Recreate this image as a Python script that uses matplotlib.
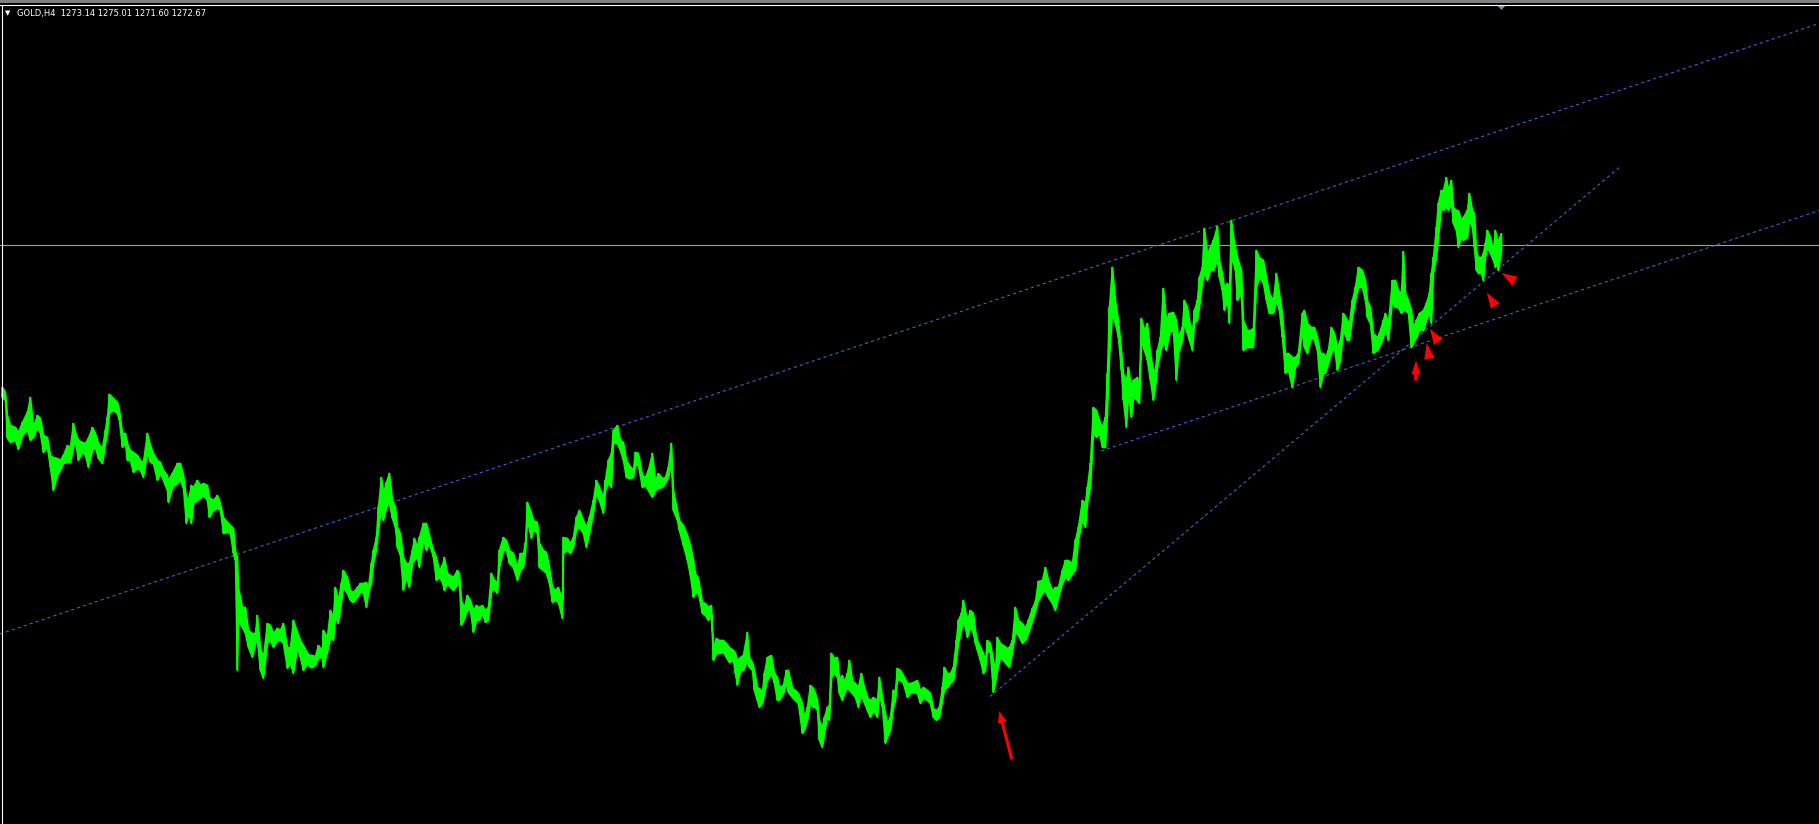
import numpy as np
import matplotlib
matplotlib.use("Agg")
import matplotlib.pyplot as plt
from matplotlib.markers import MarkerStyle
from matplotlib.path import Path
from matplotlib.transforms import Affine2D
from matplotlib.patches import Rectangle
from matplotlib.lines import Line2D

# GOLD H4 - bar index (1 bar per pixel column) with high / low of the bars
BAR = [2, 5, 7, 10, 15, 18, 22, 27, 30, 33,
       37, 40, 43, 47, 50, 53, 57, 60, 63, 67,
       70, 73, 75, 78, 82, 85, 88, 92, 95, 98,
       102, 105, 107, 109, 113, 117, 119, 122, 125, 127,
       130, 133, 137, 140, 143, 147, 150, 153, 157, 160,
       163, 167, 168, 172, 177, 180, 183, 186, 188, 191,
       193, 197, 200, 203, 207, 209, 213, 217, 220, 223,
       227, 230, 233, 235, 237, 238, 242, 245, 248, 252,
       255, 257, 260, 263, 267, 270, 273, 277, 280, 283,
       287, 290, 293, 297, 300, 303, 307, 310, 312, 315,
       318, 322, 323, 327, 330, 333, 335, 338, 341, 343,
       347, 350, 353, 357, 360, 363, 366, 368, 371, 373,
       376, 378, 381, 383, 386, 389, 392, 395, 397, 400,
       403, 406, 409, 412, 414, 417, 419, 423, 426, 429,
       433, 436, 439, 442, 444, 447, 450, 453, 457, 459,
       461, 464, 467, 470, 473, 476, 479, 482, 485, 488,
       491, 493, 497, 499, 503, 506, 509, 513, 517, 520,
       523, 525, 527, 531, 533, 537, 539, 543, 546, 549,
       552, 555, 558, 562, 563, 567, 570, 573, 576, 579,
       583, 586, 589, 593, 596, 599, 603, 605, 608, 611,
       613, 617, 620, 623, 626, 629, 633, 635, 638, 642,
       645, 648, 652, 655, 658, 662, 665, 668, 671, 673,
       677, 679, 683, 687, 690, 693, 695, 698, 702, 705,
       708, 711, 713, 716, 719, 723, 726, 729, 733, 735,
       737, 740, 743, 747, 749, 752, 754, 757, 759, 762,
       764, 767, 771, 774, 777, 779, 783, 786, 788, 792,
       795, 798, 802, 804, 807, 810, 813, 815, 817, 819,
       822, 824, 827, 829, 831, 834, 837, 839, 842, 844,
       847, 849, 852, 855, 858, 861, 863, 867, 870, 873,
       877, 879, 882, 885, 887, 890, 893, 895, 897, 900,
       903, 907, 910, 913, 917, 920, 923, 927, 930, 933,
       936, 939, 942, 944, 947, 950, 953, 956, 958, 961,
       963, 965, 967, 970, 973, 975, 977, 980, 983, 985,
       987, 990, 993, 995, 997, 1000, 1003, 1007, 1009, 1012,
       1015, 1018, 1022, 1025, 1028, 1032, 1035, 1038, 1042, 1045,
       1048, 1052, 1055, 1058, 1062, 1065, 1068, 1072, 1075, 1078,
       1082, 1085, 1087, 1090, 1093, 1096, 1099, 1102, 1105, 1107,
       1109, 1112, 1115, 1118, 1121, 1123, 1126, 1128, 1131, 1133,
       1137, 1139, 1141, 1144, 1147, 1150, 1153, 1155, 1157, 1160,
       1163, 1166, 1169, 1173, 1176, 1178, 1182, 1184, 1187, 1189,
       1192, 1194, 1197, 1199, 1202, 1204, 1207, 1210, 1213, 1217,
       1219, 1222, 1224, 1227, 1229, 1231, 1233, 1235, 1237, 1241,
       1243, 1247, 1250, 1253, 1256, 1259, 1263, 1266, 1269, 1273,
       1276, 1279, 1282, 1285, 1288, 1292, 1295, 1298, 1302, 1304,
       1307, 1311, 1314, 1317, 1320, 1323, 1325, 1328, 1331, 1334,
       1337, 1340, 1343, 1347, 1349, 1352, 1355, 1358, 1362, 1365,
       1367, 1370, 1373, 1377, 1379, 1383, 1385, 1388, 1392, 1395,
       1398, 1401, 1403, 1405, 1408, 1411, 1413, 1416, 1419, 1423,
       1426, 1429, 1431, 1433, 1436, 1438, 1441, 1443, 1446, 1448,
       1451, 1453, 1456, 1458, 1461, 1463, 1467, 1469, 1472, 1474,
       1476, 1478, 1481, 1483, 1485, 1487, 1490, 1493, 1495, 1497, 1498, 1501]

HIGH = [1244.3, 1243.3, 1238.7, 1236.7, 1236.3, 1235.3, 1237.3, 1239.3, 1242.3, 1236.3,
        1238.7, 1238.1, 1234.7, 1234.3, 1230.7, 1230.3, 1230.1, 1229.7, 1230.7, 1232.7,
        1232.3, 1237.1, 1235.3, 1233.7, 1233.3, 1233.1, 1234.1, 1236.3, 1235.1, 1233.1,
        1232.1, 1235.7, 1238.3, 1242.9, 1242.1, 1241.3, 1239.7, 1235.1, 1235.1, 1233.1,
        1231.7, 1231.3, 1230.7, 1229.7, 1229.3, 1235.1, 1232.7, 1231.1, 1229.7, 1229.3,
        1227.7, 1226.7, 1225.7, 1227.1, 1229.1, 1229.1, 1226.7, 1222.3, 1221.7, 1224.7,
        1224.3, 1225.7, 1224.7, 1225.1, 1224.7, 1222.3, 1221.7, 1222.7, 1221.1, 1218.3,
        1217.3, 1216.7, 1216.1, 1211.7, 1210.3, 1204.3, 1200.3, 1200.3, 1195.7, 1195.1,
        1195.1, 1198.7, 1192.3, 1190.3, 1197.1, 1196.7, 1195.1, 1196.1, 1195.7, 1197.1,
        1192.3, 1192.3, 1197.7, 1195.3, 1193.7, 1192.7, 1191.1, 1190.7, 1190.7, 1190.5,
        1192.7, 1191.7, 1195.7, 1194.3, 1199.7, 1198.3, 1204.3, 1201.7, 1205.1, 1207.7,
        1206.3, 1203.7, 1203.3, 1204.3, 1205.1, 1205.1, 1205.3, 1204.3, 1209.1, 1211.7,
        1214.3, 1220.3, 1226.3, 1223.1, 1225.3, 1227.1, 1221.7, 1220.3, 1216.3, 1215.1,
        1210.3, 1209.1, 1209.1, 1211.7, 1214.1, 1212.3, 1214.3, 1217.1, 1217.1, 1214.7,
        1211.7, 1210.3, 1207.7, 1208.7, 1210.3, 1207.1, 1206.7, 1206.3, 1207.7, 1207.1,
        1201.7, 1200.3, 1202.7, 1201.7, 1199.7, 1200.7, 1200.3, 1200.7, 1199.7, 1200.3,
        1207.1, 1206.1, 1205.1, 1211.7, 1214.3, 1213.7, 1211.7, 1211.1, 1208.3, 1211.1,
        1211.1, 1213.1, 1221.3, 1219.1, 1217.7, 1217.3, 1213.1, 1211.7, 1211.3, 1208.3,
        1204.3, 1203.7, 1204.3, 1201.7, 1214.3, 1214.1, 1213.1, 1214.3, 1218.3, 1219.7,
        1217.7, 1216.3, 1218.3, 1221.7, 1225.7, 1224.3, 1222.3, 1225.7, 1229.7, 1231.1,
        1235.7, 1236.7, 1233.7, 1233.3, 1229.7, 1228.7, 1227.7, 1231.3, 1231.1, 1226.7,
        1226.3, 1227.7, 1231.1, 1225.7, 1227.1, 1226.1, 1226.3, 1228.3, 1233.1, 1223.7,
        1219.7, 1217.7, 1216.7, 1214.7, 1212.7, 1209.7, 1207.1, 1206.1, 1201.3, 1201.1,
        1200.3, 1200.7, 1192.1, 1194.1, 1193.7, 1193.7, 1193.1, 1192.3, 1191.7, 1191.1,
        1189.7, 1190.3, 1190.7, 1195.3, 1190.3, 1189.3, 1187.7, 1184.3, 1184.1, 1183.3,
        1187.1, 1190.3, 1190.7, 1187.1, 1186.3, 1184.3, 1184.7, 1187.7, 1187.7, 1184.1,
        1183.7, 1183.1, 1181.1, 1178.3, 1180.3, 1184.7, 1184.1, 1183.1, 1181.7, 1177.7,
        1176.3, 1178.3, 1180.3, 1180.7, 1191.1, 1190.1, 1190.3, 1186.1, 1186.7, 1185.3,
        1187.1, 1189.7, 1185.7, 1185.1, 1184.3, 1187.1, 1185.1, 1182.3, 1181.7, 1182.3,
        1181.7, 1186.3, 1182.3, 1179.1, 1177.1, 1178.3, 1183.7, 1183.7, 1188.1, 1187.7,
        1186.7, 1185.1, 1185.1, 1185.3, 1185.7, 1183.7, 1184.3, 1183.7, 1183.1, 1180.1,
        1179.7, 1180.3, 1184.3, 1188.3, 1187.1, 1187.1, 1188.3, 1193.7, 1197.7, 1199.1,
        1201.7, 1199.7, 1197.7, 1199.7, 1199.1, 1195.7, 1193.7, 1192.3, 1191.1, 1189.7,
        1193.7, 1193.1, 1189.7, 1187.7, 1194.3, 1193.1, 1192.7, 1192.1, 1192.3, 1193.7,
        1200.3, 1197.7, 1197.1, 1196.1, 1197.7, 1200.1, 1201.5, 1205.5, 1205.7, 1208.3,
        1205.7, 1203.7, 1204.3, 1204.3, 1207.7, 1209.7, 1209.7, 1209.1, 1213.7, 1216.3,
        1221.7, 1221.1, 1224.3, 1229.1, 1240.3, 1239.7, 1237.7, 1236.3, 1238.3, 1247.1,
        1260.3, 1268.3, 1261.7, 1257.7, 1251.7, 1247.1, 1245.7, 1248.3, 1244.3, 1245.7,
        1246.3, 1244.3, 1258.1, 1255.7, 1257.1, 1251.1, 1247.7, 1247.7, 1251.7, 1254.3,
        1264.1, 1257.7, 1259.1, 1259.3, 1257.7, 1254.3, 1256.3, 1261.7, 1260.3, 1257.7,
        1255.1, 1259.7, 1261.7, 1266.3, 1268.3, 1276.1, 1271.1, 1272.3, 1273.7, 1276.5,
        1269.7, 1267.1, 1264.3, 1265.1, 1263.7, 1277.7, 1274.7, 1272.3, 1270.3, 1267.7,
        1257.7, 1255.7, 1255.7, 1256.1, 1271.7, 1270.3, 1269.7, 1266.3, 1263.1, 1261.7,
        1267.1, 1263.1, 1259.1, 1251.1, 1251.1, 1250.3, 1250.3, 1251.1, 1259.1, 1259.7,
        1257.1, 1256.3, 1256.3, 1254.3, 1251.1, 1251.1, 1250.3, 1251.7, 1256.3, 1255.1,
        1252.3, 1253.7, 1259.1, 1257.7, 1257.1, 1261.7, 1264.3, 1268.3, 1267.7, 1265.7,
        1261.7, 1260.3, 1255.1, 1254.3, 1255.1, 1257.7, 1259.1, 1257.1, 1265.7, 1265.7,
        1263.7, 1263.1, 1271.5, 1263.1, 1261.7, 1259.7, 1256.3, 1257.7, 1259.1, 1259.7,
        1261.1, 1263.1, 1267.1, 1270.3, 1276.3, 1281.1, 1283.7, 1283.7, 1286.3, 1283.7,
        1285.7, 1280.3, 1279.7, 1279.7, 1277.7, 1278.3, 1279.7, 1283.1, 1279.7, 1279.1,
        1271.7, 1270.3, 1270.3, 1271.1, 1273.1, 1275.7, 1274.3, 1271.7, 1275.7, 1273.7, 1273.7, 1275.01]

LOW = [1242.3, 1241.7, 1234.1, 1233.3, 1233.7, 1231.9, 1234.7, 1235.7, 1233.7, 1234.3,
       1236.3, 1235.1, 1231.3, 1232.3, 1228.3, 1223.7, 1226.7, 1227.7, 1229.1, 1229.3,
       1229.3, 1232.3, 1233.7, 1229.7, 1231.3, 1230.7, 1228.3, 1231.7, 1232.3, 1230.1,
       1229.1, 1233.1, 1235.1, 1239.1, 1239.7, 1239.1, 1237.7, 1232.3, 1233.1, 1229.7,
       1229.7, 1227.3, 1228.1, 1227.7, 1226.3, 1231.3, 1229.3, 1229.1, 1225.7, 1227.1,
       1225.7, 1223.7, 1221.3, 1224.3, 1225.1, 1225.7, 1224.1, 1217.1, 1219.1, 1217.1,
       1221.1, 1221.7, 1222.1, 1222.7, 1221.7, 1218.3, 1219.7, 1220.1, 1219.7, 1215.1,
       1215.3, 1215.1, 1211.1, 1209.7, 1187.7, 1197.7, 1196.3, 1195.1, 1192.3, 1190.3,
       1193.1, 1193.7, 1187.7, 1186.1, 1193.1, 1193.7, 1192.3, 1193.7, 1193.7, 1193.1,
       1188.1, 1189.1, 1187.1, 1192.3, 1190.3, 1187.7, 1189.1, 1188.3, 1188.3, 1188.7,
       1190.1, 1190.3, 1188.3, 1191.3, 1194.3, 1193.7, 1198.3, 1197.1, 1201.3, 1204.3,
       1203.1, 1201.7, 1201.3, 1202.3, 1203.3, 1203.3, 1200.3, 1203.1, 1205.1, 1209.1,
       1211.7, 1215.7, 1220.3, 1217.7, 1220.3, 1221.1, 1218.1, 1216.3, 1212.3, 1210.7,
       1203.7, 1206.3, 1204.3, 1209.1, 1209.7, 1210.3, 1208.3, 1214.1, 1211.7, 1213.1,
       1210.3, 1205.7, 1206.3, 1205.3, 1203.7, 1205.1, 1204.3, 1203.7, 1204.7, 1205.3,
       1196.7, 1198.1, 1199.7, 1199.7, 1195.3, 1197.7, 1197.7, 1199.1, 1197.3, 1197.7,
       1203.3, 1204.1, 1203.1, 1208.3, 1211.7, 1211.7, 1209.1, 1208.3, 1205.7, 1207.7,
       1208.3, 1211.1, 1217.7, 1214.1, 1215.7, 1215.1, 1208.3, 1207.7, 1207.1, 1205.1,
       1201.3, 1201.7, 1201.3, 1198.1, 1211.1, 1211.7, 1211.1, 1212.3, 1215.7, 1216.3,
       1215.1, 1212.3, 1215.1, 1219.1, 1223.1, 1221.7, 1219.1, 1223.7, 1225.1, 1224.3,
       1233.1, 1233.1, 1231.7, 1229.7, 1226.3, 1226.1, 1226.3, 1228.7, 1228.7, 1224.3,
       1224.7, 1223.7, 1222.3, 1223.7, 1224.1, 1224.3, 1225.1, 1226.3, 1229.1, 1219.7,
       1217.7, 1215.7, 1212.7, 1209.7, 1206.7, 1202.3, 1203.1, 1203.1, 1199.1, 1198.7,
       1197.7, 1198.7, 1189.7, 1191.1, 1191.1, 1191.3, 1190.3, 1189.3, 1189.7, 1187.1,
       1184.7, 1187.7, 1187.7, 1189.7, 1188.3, 1187.7, 1183.7, 1181.7, 1180.3, 1181.1,
       1183.1, 1185.7, 1187.1, 1185.1, 1181.7, 1181.7, 1183.1, 1185.1, 1183.3, 1182.3,
       1181.7, 1181.1, 1175.1, 1175.7, 1177.7, 1181.1, 1180.3, 1180.3, 1179.7, 1173.7,
       1172.3, 1175.1, 1178.3, 1177.7, 1186.3, 1187.1, 1186.3, 1183.1, 1181.7, 1183.1,
       1184.3, 1183.7, 1183.1, 1182.3, 1180.3, 1183.1, 1181.7, 1179.7, 1178.3, 1179.7,
       1178.3, 1183.1, 1180.3, 1173.1, 1174.3, 1175.7, 1180.3, 1181.7, 1185.7, 1185.7,
       1185.1, 1182.3, 1183.1, 1183.3, 1183.1, 1181.1, 1182.3, 1181.7, 1181.1, 1178.3,
       1177.7, 1178.3, 1181.7, 1183.7, 1184.3, 1185.1, 1185.7, 1189.7, 1193.1, 1195.7,
       1197.7, 1196.3, 1194.3, 1196.3, 1195.1, 1193.1, 1191.7, 1189.7, 1187.1, 1187.7,
       1191.7, 1191.1, 1183.3, 1185.1, 1187.7, 1190.3, 1189.7, 1188.7, 1188.3, 1191.3,
       1195.3, 1194.7, 1193.1, 1193.7, 1195.1, 1197.5, 1199.5, 1201.7, 1203.1, 1203.7,
       1202.3, 1201.1, 1199.7, 1202.3, 1205.1, 1206.3, 1205.7, 1207.1, 1207.7, 1213.7,
       1217.7, 1216.3, 1221.1, 1224.3, 1235.1, 1234.3, 1235.1, 1232.3, 1232.3, 1239.1,
       1250.3, 1259.1, 1257.1, 1254.3, 1247.7, 1241.7, 1236.3, 1243.1, 1238.3, 1242.3,
       1241.7, 1241.1, 1253.7, 1251.7, 1249.7, 1245.7, 1241.7, 1244.3, 1248.3, 1251.1,
       1253.7, 1251.7, 1255.1, 1255.7, 1245.7, 1251.1, 1253.7, 1257.1, 1255.1, 1253.7,
       1251.7, 1257.1, 1257.7, 1260.3, 1265.1, 1267.1, 1265.7, 1267.7, 1267.7, 1269.7,
       1266.3, 1263.7, 1259.7, 1261.7, 1257.1, 1269.7, 1269.3, 1267.7, 1261.7, 1263.1,
       1251.7, 1252.3, 1252.3, 1252.3, 1264.3, 1266.3, 1265.1, 1261.7, 1259.1, 1259.1,
       1261.7, 1259.7, 1254.3, 1247.1, 1247.7, 1244.3, 1248.3, 1249.1, 1255.7, 1252.3,
       1251.1, 1254.3, 1253.7, 1251.7, 1244.3, 1247.1, 1247.1, 1249.1, 1251.1, 1252.3,
       1247.7, 1249.7, 1255.7, 1253.7, 1253.7, 1258.3, 1261.7, 1264.3, 1264.3, 1261.7,
       1258.3, 1257.1, 1251.1, 1251.7, 1252.3, 1254.3, 1256.3, 1253.7, 1261.7, 1260.3,
       1260.3, 1259.1, 1259.7, 1259.7, 1259.1, 1252.3, 1253.1, 1254.3, 1255.7, 1255.7,
       1257.7, 1259.1, 1257.1, 1267.1, 1270.3, 1274.3, 1280.3, 1279.7, 1280.3, 1279.7,
       1281.1, 1277.1, 1275.7, 1272.3, 1274.3, 1273.7, 1274.3, 1277.7, 1276.3, 1272.3,
       1267.7, 1267.1, 1267.1, 1265.7, 1270.3, 1272.3, 1271.1, 1269.7, 1268.3, 1269.1, 1267.7, 1271.60]

HEADER = "GOLD,H4  1273.14 1275.01 1271.60 1272.67"
BID = 1272.67

# trend lines: (bar1, price1, bar2, price2)
CHANNEL_TOP = (0, 1194.9, 1819, 1317.0)
CHANNEL_BOTTOM = (1101, 1231.5, 1819, 1279.6)
UPTREND = (990, 1182.4, 1621, 1288.5)

# red arrows: (tail bar, tail price, tip bar, tip price)
ARROWS = [(1011.7, 1169.9, 999.3, 1179.5),
          (1416, 1245.6, 1416, 1249.6)]
ARROW_STYLES = ["simple,head_length=8.6,head_width=6.5,tail_width=2.2",
                "simple,head_length=10,head_width=6.5,tail_width=2.6"]
# red arrow heads: (bar, price, direction in degrees)
THUMBS = [(1428.3, 1251.1, 99.7), (1434.5, 1254.3, 122.8),
          (1491.5, 1261.5, 122.7), (1509.9, 1266.1, 148.6)]

W, H = 1819, 824
fig = plt.figure(figsize=(W / 100, H / 100), dpi=100, facecolor="black")
ax = fig.add_axes([0, 0, 1, 1])
ax.set_facecolor("black")
ax.set_xlim(0, W)
ax.set_ylim(1321.7 - H * 0.2, 1321.7)
ax.axis("off")

bars = np.array(BAR)
hi = np.array(HIGH)
lo = np.array(LOW)
green = "#00ff00"
ax.fill_between(bars, lo, hi, color=green, lw=1.2, zorder=3)
ax.vlines(bars, lo, hi, color=green, lw=1.2, zorder=3)

# bid line
ax.axhline(BID, color="#a0a0a8", lw=0.8, zorder=2)

blue = "#4169e1"
dash = (0, (3, 3))
x1, y1, x2, y2 = CHANNEL_TOP
ax.axline((x1, y1), (x2, y2), color=blue, lw=0.75, ls=dash, zorder=2)
for x1, y1, x2, y2 in (CHANNEL_BOTTOM, UPTREND):
    ax.plot([x1, x2], [y1, y2], color=blue, lw=0.75, ls=dash, zorder=2)

for (tx, ty, hx, hy), style in zip(ARROWS, ARROW_STYLES):
    ax.annotate("", xy=(hx, hy), xytext=(tx, ty),
                arrowprops=dict(arrowstyle=style, fc="red", ec="none",
                                shrinkA=0, shrinkB=0, mutation_scale=1),
                zorder=5)

head = Path([(9, 0), (-4.5, 4.5), (-4.5, -4.5), (9, 0)], closed=True)
for bx, by, ang in THUMBS:
    m = MarkerStyle(head, transform=Affine2D().rotate_deg(ang))
    ax.plot(bx, by, marker=m, ms=15, color="red", mec="none", ls="none", zorder=5)

# chart shift marker at the last bar
flat = Path([(-1, 0.55), (1, 0.55), (0, -0.55), (-1, 0.55)], closed=True)
ax.plot(BAR[-1], 1 - 7 / H, marker=MarkerStyle(flat), ms=6.5, color="#7f8c9a",
        mec="none", transform=ax.get_xaxis_transform(), clip_on=False, zorder=6)

# window frame
fig.add_artist(Rectangle((0, 1 - 3 / H), 1, 3 / H, transform=fig.transFigure,
                         color="#808080", lw=0))
fig.add_artist(Line2D([0, 1], [1 - 4.5 / H, 1 - 4.5 / H], transform=fig.transFigure,
                      color="white", lw=0.8))
fig.add_artist(Line2D([1.5 / W, 1.5 / W], [0, 1 - 4.5 / H], transform=fig.transFigure,
                      color="white", lw=0.8))

fig.text(5 / W, 1 - 13.5 / H, "\u25bc", color="white", fontsize=5, va="center",
         family="DejaVu Sans")
fig.text(17 / W, 1 - 13.5 / H, HEADER, color="white", fontsize=6, va="center",
         family="DejaVu Sans")

fig.savefig("out.png", dpi=100, facecolor="black")
